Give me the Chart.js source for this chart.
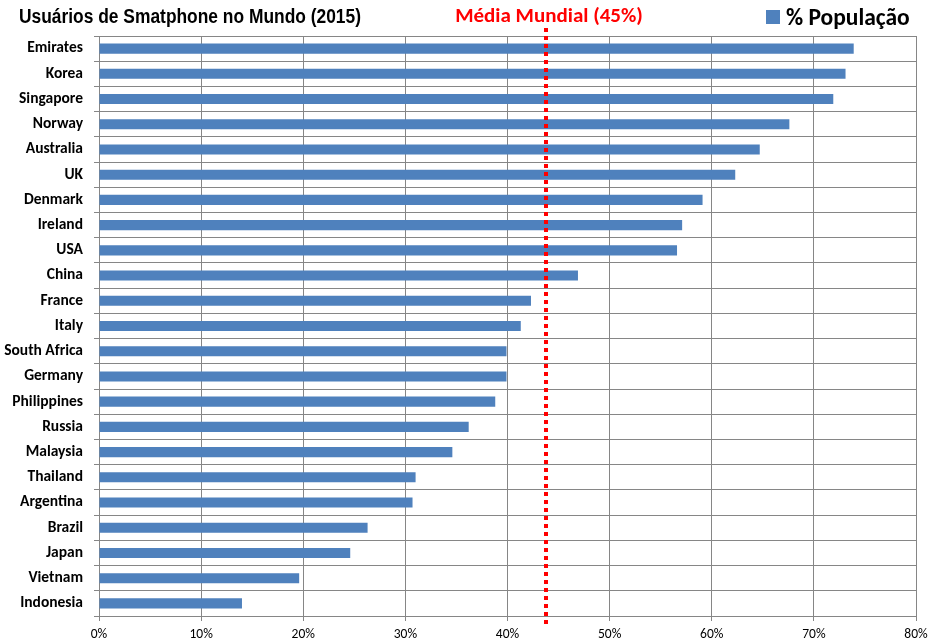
<!DOCTYPE html>
<html>
<head>
<meta charset="utf-8">
<script src="https://cdn.jsdelivr.net/npm/chart.js@4/dist/chart.umd.min.js"></script>
<style>
  html, body { margin: 0; padding: 0; background: #fff; }
  #wrap { width: 934px; height: 643px; }
</style>
</head>
<body>
<div id="wrap"><canvas id="smartChart"></canvas></div>
<script>
const paises = ["Emirates", "Korea", "Singapore", "Norway", "Australia", "UK", "Denmark", "Ireland", "USA", "China",
    "France", "Italy", "South Africa", "Germany", "Philippines", "Russia", "Malaysia", "Thailand", "Argentina",
    "Brazil", "Japan", "Vietnam", "Indonesia"]
const populacao = [73.9, 73.1, 71.9, 67.6, 64.7, 62.3, 59.1, 57.1, 56.6, 46.9,
    42.3, 41.3, 39.9, 39.9, 38.8, 36.2, 34.6, 31.0, 30.7,
    26.3, 24.6, 19.6, 14.0]
const mediaMundial = 43.8
const xMin = 0
const xMax = 80
const xStep = 10
const titulo = "Usuários de Smatphone no Mundo (2015)"
const legenda = "% População"
const mediaLabel = "Média Mundial (45%)"

const azul = "#4F81BD"
const cinza = "#868686"
const labelFont = "Carlito, Lato, sans-serif"

// titulo, legenda e linha da media
const extras = {
    id: "extras",
    afterDraw(chart) {
        const ctx = chart.ctx
        const x = chart.scales.x
        ctx.save()
        ctx.fillStyle = "#000"
        ctx.textBaseline = "alphabetic"
        ctx.textAlign = "left"
        ctx.font = "bold 20px 'Liberation Sans Narrow', 'Liberation Sans', Arial, sans-serif"
        let w = ctx.measureText(titulo).width
        ctx.save()
        ctx.translate(19, 23)
        ctx.scale(Math.min(1, 342 / w), 1)
        ctx.fillText(titulo, 0, 0)
        ctx.restore()

        // legenda
        ctx.fillStyle = azul
        ctx.fillRect(766, 10, 14, 14)
        ctx.fillStyle = "#000"
        ctx.font = "bold 23.5px " + labelFont
        ctx.fillText(legenda, 786, 25)

        // linha media
        const px = Math.round(x.getPixelForValue(mediaMundial))
        ctx.strokeStyle = "#FF0000"
        ctx.lineWidth = 4
        ctx.setLineDash([4, 4])
        ctx.beginPath()
        ctx.moveTo(px, 28)
        ctx.lineTo(px, 626)
        ctx.stroke()
        ctx.setLineDash([])

        ctx.fillStyle = "#FF0000"
        ctx.textAlign = "center"
        ctx.font = "bold 21px " + labelFont
        ctx.fillText(mediaLabel, 549, 22)
        ctx.restore()
    }
}

const ctx = document.getElementById("smartChart").getContext("2d")
new Chart(ctx, {
    type: "bar",
    data: {
        labels: paises,
        datasets: [{
            label: legenda,
            data: populacao,
            backgroundColor: azul,
            borderWidth: 0,
            barPercentage: 0.4,
            categoryPercentage: 1
        }]
    },
    options: {
        indexAxis: "y",
        responsive: true,
        maintainAspectRatio: false,
        animation: false,
        layout: { padding: { top: 36, right: 18, left: 0, bottom: 0 } },
        plugins: {
            legend: { display: false },
            tooltip: { enabled: false }
        },
        scales: {
            x: {
                min: xMin,
                max: xMax,
                ticks: {
                    stepSize: xStep,
                    padding: 6,
                    color: "#000",
                    font: { family: labelFont, size: 13.5 },
                    callback: v => v + "%"
                },
                grid: { color: cinza, lineWidth: 1, tickLength: 5, tickColor: cinza },
                border: { color: cinza, width: 1 },
                afterFit: s => { s.height = 27 }
            },
            y: {
                ticks: {
                    padding: 11,
                    color: "#000",
                    font: { family: labelFont, size: 15.5, weight: "bold" }
                },
                grid: { offset: true, color: cinza, lineWidth: 1, tickLength: 5, tickColor: cinza },
                border: { color: cinza, width: 1 },
                afterFit: s => { s.width = 99 }
            }
        }
    },
    plugins: [extras]
})
</script>
</body>
</html>
